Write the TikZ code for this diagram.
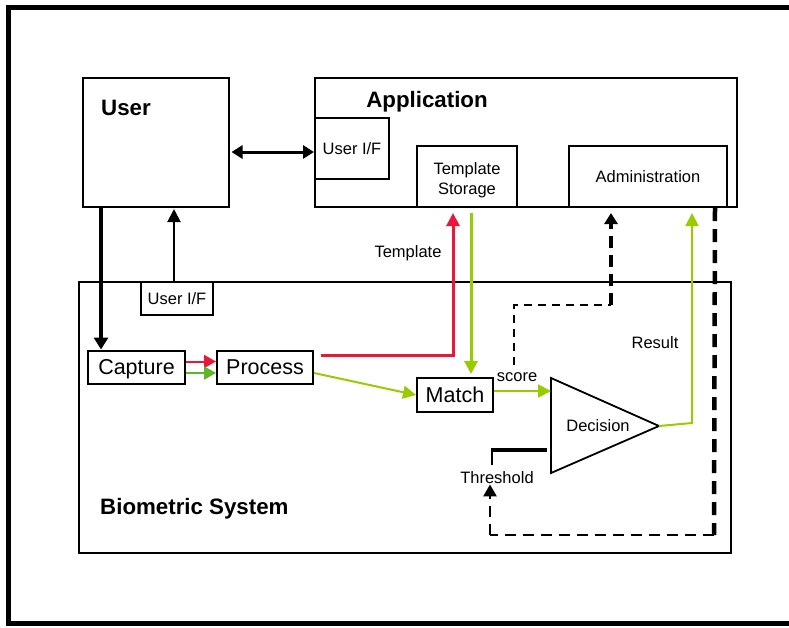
\documentclass[tikz,border=0pt]{standalone}
\usepackage{fontspec}
\setmainfont{Liberation Sans}
\usetikzlibrary{arrows.meta,calc}
\definecolor{myred}{HTML}{E8183A}
\definecolor{lime}{HTML}{99CC00}
\definecolor{grn}{HTML}{5CB82A}
\begin{document}
\begin{tikzpicture}[x=1pt,y=-1pt,
  box/.style={draw,line width=2pt,inner sep=0pt},
  small/.style={font=\fontsize{16.5}{20}\selectfont},
  smallc/.style={small,text height=11.8pt,text depth=0pt},
  big/.style={font=\fontsize{21.5}{24}\selectfont,text height=15.4pt,text depth=0pt},
  boldlab/.style={font=\fontsize{22.3}{24}\selectfont\bfseries,inner sep=0pt},
  tipa/.style={-{Triangle[length=13pt,width=13pt]}},
  tipb/.style={-{Triangle[length=13pt,width=13pt]}},
  thindash/.style={line width=2pt,dash pattern=on 8pt off 6pt},
  thickdash/.style={line width=4.5pt,dash pattern=on 13pt off 8pt},
]
\useasboundingbox (0,0) rectangle (789,627);
\clip (0,0) rectangle (789,627);
% outer frame
\draw[line width=5pt] (800,7) -- (8,7) -- (8,623) -- (800,623);

% boxes
\node[box,minimum width=146pt,minimum height=129pt] (user) at (156,142.5) {};
\node[boldlab,anchor=west] (userlab) at (101,108) {User};
\node[box,minimum width=422pt,minimum height=129pt] (app) at (526,142.5) {};
\node[boldlab] (applab) at (427,102) {Application};
\node[box,minimum width=74pt,minimum height=61pt,smallc] (appuif) at (352,148.5) {User I/F};
\node[box,minimum width=100pt,minimum height=61pt] (tstore) at (467,176.5) {};
\node[small,align=center] (tstorelab) at (467,180) {Template\\Storage};
\node[box,minimum width=158pt,minimum height=61pt,smallc] (admin) at (648,176.5) {Administration};

\node[draw,line width=1.7pt,inner sep=0pt,minimum width=652pt,minimum height=271pt] (bio) at (405,417.5) {};
\node[boldlab,anchor=west] (biolab) at (100,509) {Biometric System};
\node[box,fill=white,minimum width=72pt,minimum height=33pt,smallc] (buif) at (177,298.5) {User I/F};
\node[box,minimum width=97pt,minimum height=33pt,big] (capture) at (136.5,367) {Capture};
\node[box,minimum width=96pt,minimum height=33pt,big] (process) at (265,367) {Process};
\node[box,minimum width=76pt,minimum height=34pt,big] (match) at (455,395) {Match};

% decision triangle
\coordinate (dA) at (551,378);
\coordinate (dB) at (551,473);
\coordinate (dtip) at (659,426);
\coordinate (din) at (551,391);
\draw[line width=1.8pt,line join=miter] (dA) -- (dtip) -- (dB) -- cycle;
\node[small] (declab) at (598,426) {Decision};

% labels
\node[small] (templab) at (408,253) {Template};
\node[small] (reslab) at (655,343) {Result};
\node[small] (scorelab) at (517,377) {score};
\node[small] (thrlab) at (497,478) {Threshold};

% user <-> user I/F
\draw[line width=3pt,{Triangle[length=11pt,width=13pt]}-{Triangle[length=11pt,width=13pt]},shorten <=1.5pt]
  (user.east |- 0,152) -- (appuif.west |- 0,152);
% biometric user I/F -> user
\draw[line width=2pt,tipa] ([xshift=-3pt]buif.north) -- ([xshift=18pt,yshift=-1pt]user.south);
% user -> capture
\draw[line width=4pt,-{Triangle[length=12pt,width=14pt]}] ([xshift=-55pt]user.south) -- ([xshift=-35.5pt]capture.north);
% capture -> process
\draw[line width=2pt,myred,-{Triangle[length=12pt,width=13pt]}] ([yshift=5.5pt]capture.east) -- ([yshift=5.5pt]process.west);
\draw[line width=2pt,grn,-{Triangle[length=12pt,width=13pt]}] ([yshift=-6pt]capture.east) -- ([yshift=-6pt]process.west);
% process -> template storage (red)
\coordinate (rstart) at (321,355);
\draw[line width=3pt,myred,tipb,line join=miter] (rstart) -| ([xshift=-14pt,yshift=-5pt]tstore.south);
% template storage -> match (lime)
\draw[line width=3pt,lime,tipb] ([xshift=4pt,yshift=-5pt]tstore.south) -- ([xshift=16pt,yshift=3pt]match.north);
% process -> match
\draw[line width=2pt,lime,tipb] ([yshift=-6pt]process.east) -- (match.west);
% match -> decision
\draw[line width=2pt,lime,tipb] ([yshift=4pt]match.east) -- (din);
% decision -> administration (result)
\coordinate (rbend) at (692,423);
\draw[line width=2pt,lime,tipb] (dtip) -- (rbend) -- ([xshift=44pt,yshift=-5pt]admin.south);
% score dashed to administration
\coordinate (s1) at (514,365);
\coordinate (s2) at (514,305);
\coordinate (s3) at (611,305);
\draw[thindash] (s1) -- (s2) -- (s3);
\draw[line width=4.5pt,dash pattern=on 12pt off 7pt,-{Triangle[length=11pt,width=13pt]}] (s3) -- ([xshift=-37pt,yshift=-5pt]admin.south);
% application -> threshold dashed
\coordinate (t1) at (714,535);
\coordinate (t2) at (490,535);
\draw[thickdash] ([xshift=-23pt]app.south east) -- (t1);
\draw[line width=2.5pt,dash pattern=on 11pt off 7pt] (t1) -- (t2);
\draw[line width=2.5pt,dash pattern=on 11pt off 7pt,-{Triangle[length=12pt,width=13pt]}] (t2) -- ([xshift=-7pt,yshift=-16pt]thrlab.north);
% threshold bracket
\coordinate (b1) at (492,465);
\coordinate (b2) at (492,450);
\coordinate (b3) at (547,450);
\draw[line width=1.6pt] (b1) -- (b2);
\draw[line width=4pt] ([xshift=-0.8pt]b2) -- (b3);
\end{tikzpicture}
\end{document}
